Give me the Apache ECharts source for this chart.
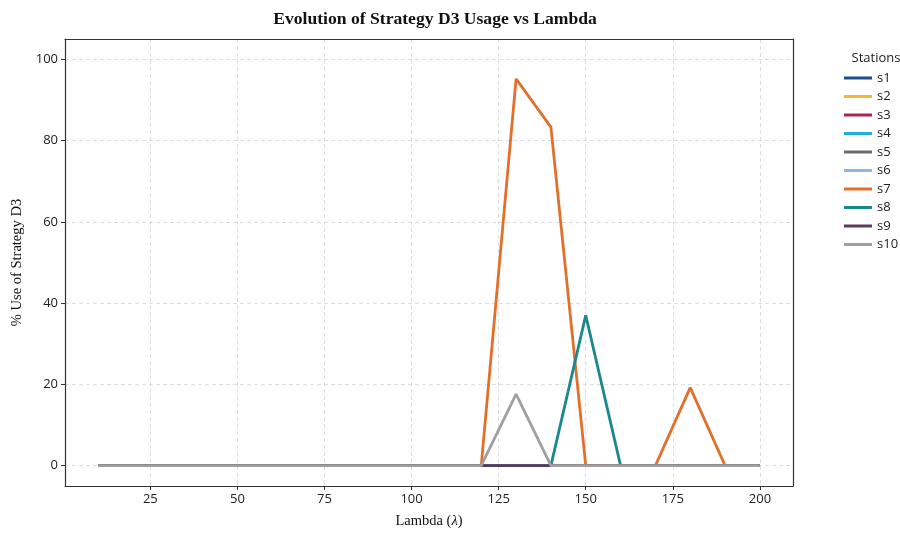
<!DOCTYPE html>
<html><head><meta charset="utf-8">
<script src="https://cdn.jsdelivr.net/npm/echarts@6/dist/echarts.min.js"></script>
<style>html,body{margin:0;padding:0;background:#fff}#c{width:900px;height:534px}</style>
</head><body><div id="c"></div>
<script>
const lambdas = [10,20,30,40,50,60,70,80,90,100,110,120,130,140,150,160,170,180,190,200];
const stations = ['s1','s2','s3','s4','s5','s6','s7','s8','s9','s10'];
const colors = ['#1f4e8f','#f5b633','#b3224f','#1eaee0','#6b6b6b','#8fb3e3','#e0702c','#19888f','#5c3a5e','#a0a0a0'];
const zeros = [0,0,0,0,0,0,0,0,0,0,0,0,0,0,0,0,0,0,0,0];
const s7 = [0,0,0,0,0,0,0,0,0,0,0,0,95.2,83.3,0,0,0,19.2,0,0];
const s8 = [0,0,0,0,0,0,0,0,0,0,0,0,0,0,37,0,0,0,0,0];
const s10 = [0,0,0,0,0,0,0,0,0,0,0,0,17.6,0,0,0,0,0,0,0];
const values = [zeros, zeros, zeros, zeros, zeros, zeros, s7, s8, zeros, s10];
const yTicks = [0,20,40,60,80,100];
const xTicks = [25,50,75,100,125,150,175,200];

const chart = echarts.init(document.getElementById('c'), null, {renderer:'canvas'});
const tickFont = {fontFamily:'Open Sans', fontSize:13, color:'#222'};
const frameAxis = {
  axisLine:{show:true, onZero:false, lineStyle:{color:'#333', width:1.2}},
  axisTick:{show:false}, axisLabel:{show:false}, splitLine:{show:false}
};
chart.setOption({
  animation:false,
  backgroundColor:'#fff',
  title:[{
    text:'Evolution of Strategy D3 Usage vs Lambda',
    left:430, top:5, textAlign:'center',
    textStyle:{fontFamily:'Liberation Serif', fontWeight:'bold', fontSize:17.6, color:'#111'}
  },{
    text:'Stations', left:871, top:47, textAlign:'center',
    textStyle:{fontFamily:'Open Sans', fontWeight:'normal', fontSize:13, color:'#222'}
  }],
  legend:{
    orient:'vertical', left:839, top:66,
    itemWidth:28, itemHeight:3, itemGap:4.5, icon:'rect',
    textStyle:{fontFamily:'Open Sans', fontSize:13, color:'#222', lineHeight:14},
    data:stations
  },
  grid:{left:65, right:107, top:39, bottom:47, show:false},
  xAxis:[{
    type:'value', min:0.5, max:209.5,
    name:'Lambda ({i|\u03bb})', nameLocation:'middle', nameGap:28,
    nameTextStyle:{fontFamily:'Liberation Serif', fontSize:14.5, color:'#111',
      rich:{i:{fontFamily:'Liberation Serif', fontStyle:'italic', fontSize:14.5, color:'#111'}}},
    axisLine:{show:true, onZero:false, lineStyle:{color:'#333', width:1.2}},
    axisTick:{show:true, length:4, customValues:xTicks, lineStyle:{color:'#333'}},
    axisLabel:{customValues:xTicks, margin:7, ...tickFont},
    splitLine:{show:true, lineStyle:{color:'#d6d6d6', type:[4,3], width:0.8}}
  },{
    type:'value', min:0.5, max:209.5, position:'top', ...frameAxis
  }],
  yAxis:[{
    type:'value', min:-5, max:105,
    name:'% Use of Strategy D3', nameLocation:'middle', nameGap:40,
    nameTextStyle:{fontFamily:'Liberation Serif', fontSize:14.5, color:'#111'},
    axisLine:{show:true, onZero:false, lineStyle:{color:'#333', width:1.2}},
    axisTick:{show:true, length:4, customValues:yTicks, lineStyle:{color:'#333'}},
    axisLabel:{customValues:yTicks, margin:7, ...tickFont},
    splitLine:{show:true, lineStyle:{color:'#d6d6d6', type:[4,3], width:0.8}}
  },{
    type:'value', min:-5, max:105, position:'right', ...frameAxis
  }],
  series: stations.map((s,i)=>({
    name:s, type:'line', showSymbol:false, symbol:'none',
    xAxisIndex:0, yAxisIndex:0,
    data: lambdas.map((l,j)=>[l, values[i][j]]),
    lineStyle:{color:colors[i], width:2.8},
    itemStyle:{color:colors[i]},
    z: 2+i
  }))
});
</script></body></html>
